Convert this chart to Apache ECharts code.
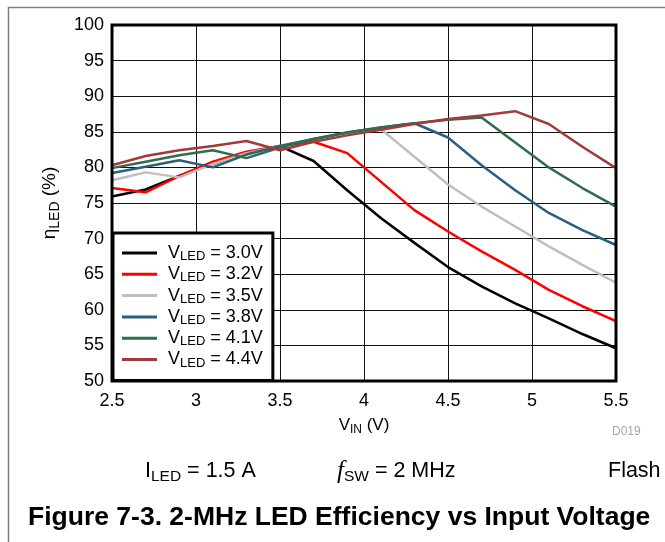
<!DOCTYPE html>
<html>
<head>
<meta charset="utf-8">
<script src="https://cdn.jsdelivr.net/npm/echarts@6/dist/echarts.min.js"></script>
<style>
  html, body { margin: 0; padding: 0; background: #fff; }
  #chart { width: 665px; height: 542px; }
</style>
</head>
<body>
<div id="chart"></div>
<script>
// Input voltage sweep (V)
var vin = [2.5, 2.7, 2.9, 3.1, 3.3, 3.5, 3.7, 3.9, 4.1, 4.3, 4.5, 4.7, 4.9, 5.1, 5.3, 5.5];

// LED efficiency (%) for each LED forward voltage
var eff30 = [75.9, 76.9, 78.8, 80.5, 82.0, 83.0, 80.9, 76.8, 72.9, 69.4, 66.0, 63.3, 60.9, 58.8, 56.6, 54.6];
var eff32 = [77.1, 76.5, 78.8, 80.8, 82.2, 83.0, 83.6, 82.0, 78.0, 74.0, 71.0, 68.2, 65.6, 62.8, 60.5, 58.4];
var eff35 = [78.2, 79.3, 78.6, 80.5, 82.0, 83.0, 84.0, 84.8, 85.4, 81.5, 77.6, 74.5, 71.7, 68.9, 66.3, 63.8];
var eff38 = [79.2, 80.1, 81.0, 80.0, 81.8, 83.0, 84.0, 84.9, 85.6, 86.2, 84.2, 80.3, 76.8, 73.6, 71.2, 69.1];
var eff41 = [79.9, 80.8, 81.7, 82.4, 81.3, 82.8, 84.0, 84.9, 85.6, 86.2, 86.7, 87.0, 83.5, 80.0, 77.1, 74.5];
var eff44 = [80.3, 81.6, 82.4, 83.0, 83.7, 82.4, 83.6, 84.5, 85.3, 86.1, 86.8, 87.3, 87.9, 86.1, 82.9, 79.9];

var seriesNames = ['3.0V', '3.2V', '3.5V', '3.8V', '4.1V', '4.4V'];
var seriesData = [eff30, eff32, eff35, eff38, eff41, eff44];
var seriesColors = ['#000000', '#ff0000', '#bfbfbf', '#2a5f7e', '#2f6e4a', '#a33a3a'];

// Axis ranges and steps
var xMin = 2.5, xMax = 5.5, xStep = 0.5;
var yMin = 50, yMax = 100, yStep = 5;

var FONT = '"Liberation Sans", Arial, Helvetica, sans-serif';

function pairs(xs, ys) {
  return xs.map(function (x, i) { return [x, ys[i]]; });
}

var series = seriesNames.map(function (name, i) {
  return {
    name: name,
    type: 'line',
    data: pairs(vin, seriesData[i]),
    symbol: 'none',
    smooth: false,
    z: 3 + i,
    lineStyle: { color: seriesColors[i], width: 2.5 },
    itemStyle: { color: seriesColors[i] }
  };
});

var chart = echarts.init(document.getElementById('chart'), null, { renderer: 'canvas' });

chart.setOption({
  animation: false,
  backgroundColor: '#ffffff',
  textStyle: { fontFamily: FONT },
  grid: {
    left: 112, right: 49, top: 25, bottom: 161,
    show: true, borderColor: '#000', borderWidth: 3,
    backgroundColor: 'transparent', z: 10
  },
  xAxis: {
    type: 'value', min: xMin, max: xMax, interval: xStep,
    axisLine: { show: false },
    axisTick: { show: false },
    splitLine: { show: true, lineStyle: { color: '#111', width: 1 } },
    axisLabel: { color: '#000', fontSize: 18, fontFamily: FONT, margin: 11 },
    name: '{v|V}{s|IN}{v| (V)}',
    nameLocation: 'middle',
    nameGap: 31,
    nameTextStyle: {
      rich: {
        v: { fontSize: 17, fontFamily: FONT, color: '#000', lineHeight: 20 },
        s: { fontSize: 12, fontFamily: FONT, color: '#000', lineHeight: 12, padding: [9, 0, 0, 0] }
      }
    }
  },
  yAxis: {
    type: 'value', min: yMin, max: yMax, interval: yStep,
    axisLine: { show: false },
    axisTick: { show: false },
    splitLine: { show: true, lineStyle: { color: '#111', width: 1 } },
    axisLabel: { color: '#000', fontSize: 18, fontFamily: FONT, margin: 8 },
    name: '{v|η}{s|LED}{v| (%)}',
    nameLocation: 'middle',
    nameGap: 51,
    nameTextStyle: {
      rich: {
        v: { fontSize: 19, fontFamily: FONT, color: '#000', lineHeight: 22 },
        s: { fontSize: 14, fontFamily: FONT, color: '#000', lineHeight: 14, padding: [10, 0, 0, 0] }
      }
    }
  },
  legend: {
    orient: 'vertical',
    left: 113, top: 233,
    padding: [10, 10, 11, 9],
    itemGap: 1.3,
    itemWidth: 35, itemHeight: 3,
    icon: 'rect',
    backgroundColor: '#fff',
    borderColor: '#000', borderWidth: 3,
    z: 20,
    data: seriesNames,
    formatter: function (name) {
      return '{v|V}{s|LED}{v| = ' + name + '}';
    },
    textStyle: {
      padding: [0, 0, 0, 6],
      rich: {
        v: { fontSize: 18, fontFamily: FONT, color: '#000', lineHeight: 20 },
        s: { fontSize: 13, fontFamily: FONT, color: '#000', lineHeight: 13, padding: [7, 0, 0, 0] }
      }
    }
  },
  series: series,
  graphic: [
    {
      type: 'rect', silent: true, z: -1,
      shape: { x: 8.5, y: 7.5, width: 700, height: 600 },
      style: { fill: 'none', stroke: '#7f7f7f', lineWidth: 1.5 }
    },
    {
      type: 'text', left: 612, top: 426, silent: true,
      style: { text: 'D019', fontSize: 12, fontFamily: FONT, fill: '#a6a6a6' }
    },
    {
      type: 'text', left: 145, top: 458, silent: true,
      style: {
        text: '{v|I}{s|LED}{v| = 1.5 A}',
        rich: {
          v: { fontSize: 21.5, fontFamily: FONT, fill: '#000', lineHeight: 26 },
          s: { fontSize: 15.5, fontFamily: FONT, fill: '#000', lineHeight: 15, padding: [11, 0, 0, 0] }
        }
      }
    },
    {
      type: 'text', left: 337, top: 458, silent: true,
      style: {
        text: '{f|f}{s|SW}{v| = 2 MHz}',
        rich: {
          f: { fontSize: 25, fontFamily: '"Liberation Serif", "Times New Roman", serif', fontStyle: 'italic', fill: '#000', lineHeight: 26 },
          v: { fontSize: 21.5, fontFamily: FONT, fill: '#000', lineHeight: 26 },
          s: { fontSize: 15.5, fontFamily: FONT, fill: '#000', lineHeight: 15, padding: [11, 0, 0, 0] }
        }
      }
    },
    {
      type: 'text', left: 608, top: 460, silent: true,
      style: { text: 'Flash', fontSize: 21.5, fontFamily: FONT, fill: '#000' }
    },
    {
      type: 'text', left: 28, top: 504, silent: true,
      style: {
        text: 'Figure 7-3. 2-MHz LED Efficiency vs Input Voltage',
        fontSize: 26.5, fontWeight: 'bold', fontFamily: FONT, fill: '#000'
      }
    }
  ]
});
</script>
</body>
</html>
